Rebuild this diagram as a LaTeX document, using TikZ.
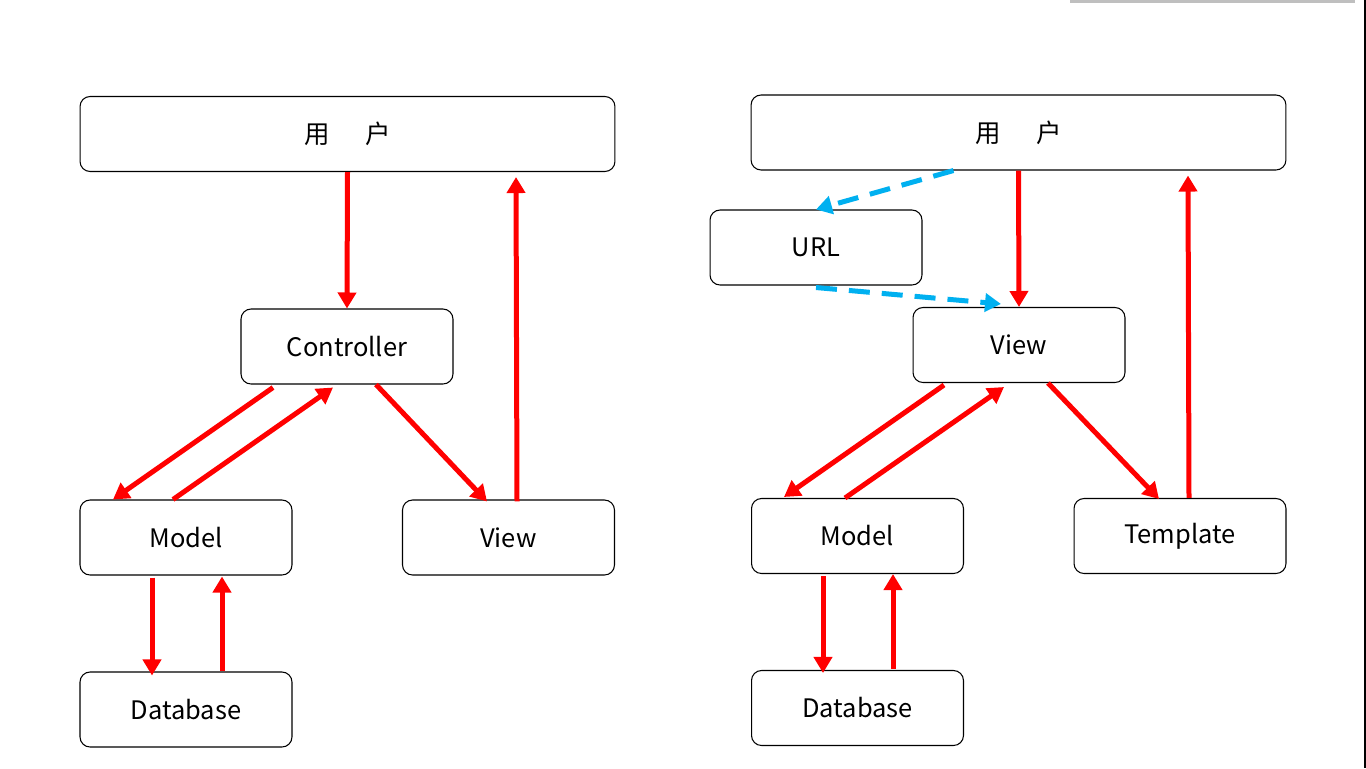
\documentclass[tikz,border=0pt]{standalone}
\usepackage{fontspec}
\setmainfont{Noto Sans CJK SC}
\usetikzlibrary{arrows.meta,calc}
\definecolor{urlblue}{RGB}{0,176,240}
\tikzset{
  box/.style={draw,rounded corners=0.2cm,line width=0.6pt,minimum width=4.24cm,minimum height=1.5cm,font=\fontsize{14.5}{17}\selectfont},
  wide/.style={box,minimum width=10.7cm},
  flow/.style={red,line width=0.1cm,-{Triangle[length=0.32cm,width=0.36cm]}},
  link/.style={urlblue,line width=0.1cm,dash pattern=on 0.42cm off 0.24cm,-{Triangle[length=0.32cm,width=0.36cm]}}
}
\begin{document}
\begin{tikzpicture}[x=0.02cm,y=-0.02cm]
  \useasboundingbox (0,0) rectangle (1366,768);
  % window edges
  \draw[gray!50,line width=0.06cm] (1070,1)--(1355,1);
  \draw[black,line width=0.04cm] (1365,0)--(1365,768);
  % MVC
  \node[wide] (user1) at (347.5,134) {用\hspace{1.4em}户};
  \node[box] (ctrl) at (347,346.5) {Controller};
  \node[box] (model1) at (186,537.5) {Model};
  \node[box] (view1) at (508.5,537.5) {View};
  \node[box] (db1) at (186,709.5) {Database};
  \draw[flow] (user1.south) -- (ctrl.north);
  \draw[flow] ($(ctrl.south)+(-74,3)$) -- ($(model1.north)+(-73,0)$);
  \draw[flow] ($(model1.north)+(-13,0)$) -- ($(ctrl.south)+(-14,3)$);
  \draw[flow] ($(ctrl.south)+(29,0)$) -- ($(view1.north)+(-21.5,2)$);
  \draw[flow] ($(view1.north)+(8.5,2)$) -- ($(user1.south)+(168.5,5)$);
  \draw[flow] ($(model1.south)+(-34,2)$) -- ($(db1.north)+(-34,4)$);
  \draw[flow] ($(db1.north)+(36,0)$) -- ($(model1.south)+(36,1)$);
  % MTV
  \node[wide] (user2) at (1018.5,132.5) {用\hspace{1.4em}户};
  \node[box] (url) at (816,247.5) {URL};
  \node[box] (view2) at (1019,345) {View};
  \node[box] (model2) at (857.5,536) {Model};
  \node[box] (tmpl) at (1180,536) {Template};
  \node[box] (db2) at (857.5,708) {Database};
  \draw[link] ($(user2.south)+(-65,0)$) -- (url.north);
  \draw[link] ($(url.south)+(0,2)$) -- ($(view2.north)+(-18,-3)$);
  \draw[flow] (user2.south) -- (view2.north);
  \draw[flow] ($(view2.south)+(-75,2)$) -- ($(model2.north)+(-73.5,-1)$);
  \draw[flow] ($(model2.north)+(-12.5,0)$) -- ($(view2.south)+(-15,4)$);
  \draw[flow] ($(view2.south)+(29,0)$) -- ($(tmpl.north)+(-21,1)$);
  \draw[flow] ($(tmpl.north)+(9,0)$) -- ($(user2.south)+(169.5,5)$);
  \draw[flow] ($(model2.south)+(-34.5,2)$) -- ($(db2.north)+(-34.5,3)$);
  \draw[flow] ($(db2.north)+(35.5,-1)$) -- ($(model2.south)+(35.5,0)$);
\end{tikzpicture}
\end{document}
